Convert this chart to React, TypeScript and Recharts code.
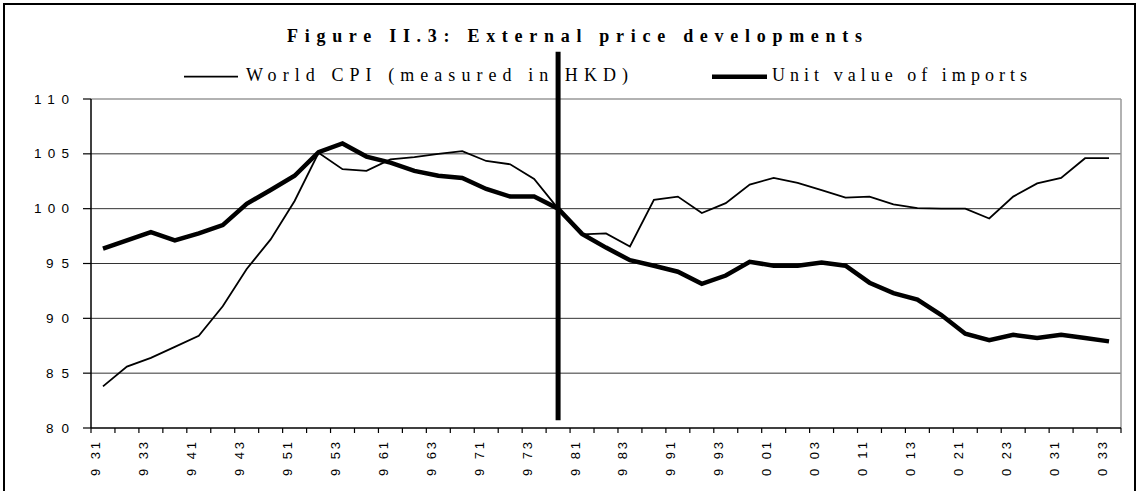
import { LineChart, Line, XAxis, YAxis, CartesianGrid, ReferenceLine } from 'recharts';

// quarters 1993 Q1 .. 2003 Q3, labelled the way the source prints them
const quarters = [
  '9 31', '9 32', '9 33', '9 34', '9 41', '9 42', '9 43', '9 44',
  '9 51', '9 52', '9 53', '9 54', '9 61', '9 62', '9 63', '9 64',
  '9 71', '9 72', '9 73', '9 74', '9 81', '9 82', '9 83', '9 84',
  '9 91', '9 92', '9 93', '9 94', '0 01', '0 02', '0 03', '0 04',
  '0 11', '0 12', '0 13', '0 14', '0 21', '0 22', '0 23', '0 24',
  '0 31', '0 32', '0 33',
];

const worldCpi = [
  83.8, 85.6, 86.4, 87.4, 88.4, 91.1, 94.5, 97.2,
  100.7, 105.1, 103.6, 103.45, 104.5, 104.7, 105.0, 105.25,
  104.35, 104.05, 102.7, 100.0, 97.65, 97.75, 96.55, 100.8,
  101.1, 99.6, 100.5, 102.2, 102.8, 102.35, 101.7, 101.0,
  101.1, 100.4, 100.05, 100.0, 100.0, 99.1, 101.1, 102.3,
  102.8, 104.6, 104.6,
];

const importUnitValue = [
  96.35, 97.1, 97.85, 97.1, 97.75, 98.5, 100.45, 101.7,
  103.0, 105.15, 105.95, 104.75, 104.2, 103.45, 103.0, 102.8,
  101.8, 101.1, 101.1, 100.0, 97.7, 96.45, 95.3, 94.8,
  94.25, 93.15, 93.9, 95.15, 94.8, 94.8, 95.1, 94.8,
  93.25, 92.3, 91.7, 90.3, 88.6, 88.0, 88.5, 88.2,
  88.5, 88.2, 87.9,
];

const yTicks = [80, 85, 90, 95, 100, 105, 110];
const baseQuarter = '9 74';

const data = quarters.map((q, i) => ({ q, cpi: worldCpi[i], imports: importUnitValue[i] }));

const CHART_W = 1138;
const CHART_H = 491;
const MARGIN = { top: 99, right: 17, bottom: 0, left: 11 };
const Y_AXIS_W = 80;
const X_AXIS_H = 63;
const PLOT_LEFT = MARGIN.left + Y_AXIS_W;
const PLOT_RIGHT = CHART_W - MARGIN.right;
const PLOT_BOTTOM = CHART_H - MARGIN.bottom - X_AXIS_H;
const BAND = (PLOT_RIGHT - PLOT_LEFT) / quarters.length;

function YTick(props: any) {
  const { x, y, payload } = props;
  const s = String(payload.value);
  return (
    <text
      x={x - 12}
      y={y + 4.6}
      textAnchor="end"
      textLength={12 * s.length - 1}
      lengthAdjust="spacing"
      fontFamily="Liberation Sans, Arial, sans-serif"
      fontSize={13.5}
      fill="#000"
    >
      {s}
    </text>
  );
}

function XTick(props: any) {
  const { x, payload, index } = props;
  const left = x - BAND / 2;
  const right = x + BAND / 2;
  const last = index === quarters.length - 1;
  return (
    <g>
      <line x1={left} x2={left} y1={PLOT_BOTTOM} y2={PLOT_BOTTOM + 5} stroke="#000" strokeWidth={1.2} />
      {last && <line x1={right} x2={right} y1={PLOT_BOTTOM} y2={PLOT_BOTTOM + 5} stroke="#000" strokeWidth={1.2} />}
      {index % 2 === 0 && (
        <text
          x={x - 2.5}
          y={PLOT_BOTTOM + 14}
          transform={`rotate(-90, ${x - 2.5}, ${PLOT_BOTTOM + 14})`}
          textAnchor="end"
          textLength={34}
          lengthAdjust="spacing"
          fontFamily="Liberation Sans, Arial, sans-serif"
          fontSize={13}
          fill="#000"
        >
          {payload.value}
        </text>
      )}
    </g>
  );
}

export default function App() {
  return (
    <div
      style={{
        position: 'absolute',
        left: 0,
        top: 0,
        width: CHART_W,
        height: CHART_H,
        overflow: 'hidden',
        background: '#fff',
      }}
    >
      <LineChart width={CHART_W} height={CHART_H} data={data} margin={MARGIN}>
        <CartesianGrid vertical={false} horizontalValues={[85, 90, 95, 100, 105]} stroke="#333" />
        <CartesianGrid
          horizontalValues={[110]}
          verticalCoordinatesGenerator={({ offset }: any) => [offset.left + offset.width]}
          stroke="#999"
          strokeWidth={1.5}
        />
        <XAxis
          dataKey="q"
          interval={0}
          height={X_AXIS_H}
          padding={{ left: BAND / 2, right: BAND / 2 }}
          tickLine={false}
          axisLine={{ stroke: '#000', strokeWidth: 1.5 }}
          tick={(p: any) => <XTick {...p} />}
        />
        <YAxis
          width={Y_AXIS_W}
          domain={[80, 110]}
          ticks={yTicks}
          tickSize={8}
          tickLine={{ stroke: '#000', strokeWidth: 1.2 }}
          axisLine={{ stroke: '#000', strokeWidth: 1.5 }}
          tick={(p: any) => <YTick {...p} />}
        />
        <Line
          type="linear"
          dataKey="cpi"
          name="World CPI (measured in HKD)"
          stroke="#000"
          strokeWidth={1.8}
          dot={false}
          isAnimationActive={false}
        />
        <Line
          type="linear"
          dataKey="imports"
          name="Unit value of imports"
          stroke="#000"
          strokeWidth={4.5}
          dot={false}
          isAnimationActive={false}
        />
        <ReferenceLine
          segment={[
            { x: baseQuarter, y: 80.7 },
            { x: baseQuarter, y: 114.3 },
          ]}
          ifOverflow="visible"
          stroke="#000"
          strokeWidth={5}
        />
      </LineChart>

      <svg
        width={CHART_W}
        height={CHART_H}
        style={{ position: 'absolute', left: 0, top: 0, pointerEvents: 'none' }}
      >
        <rect x={4} y={4} width={1131} height={600} fill="none" stroke="#000" strokeWidth={2} />
        <text
          x={287}
          y={42}
          textLength={575}
          lengthAdjust="spacing"
          fontFamily="Liberation Serif, Times New Roman, serif"
          fontWeight="bold"
          fontSize={18}
          fill="#000"
        >
          Figure II.3: External price developments
        </text>
        <line x1={184} x2={238} y1={76.7} y2={76.7} stroke="#000" strokeWidth={1.8} />
        <text
          x={246}
          y={81}
          textLength={382}
          lengthAdjust="spacing"
          fontFamily="Liberation Serif, Times New Roman, serif"
          fontSize={18}
          fill="#000"
        >
          World CPI (measured in HKD)
        </text>
        <line x1={712} x2={767} y1={76.7} y2={76.7} stroke="#000" strokeWidth={4.5} />
        <text
          x={772}
          y={81}
          textLength={255}
          lengthAdjust="spacing"
          fontFamily="Liberation Serif, Times New Roman, serif"
          fontSize={18}
          fill="#000"
        >
          Unit value of imports
        </text>
      </svg>
    </div>
  );
}
